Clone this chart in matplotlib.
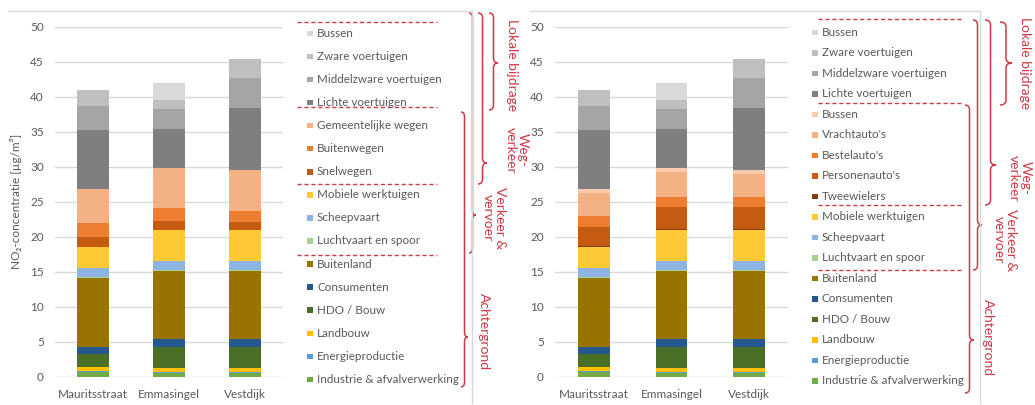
import matplotlib
matplotlib.use("Agg")
import matplotlib.pyplot as plt
import numpy as np
from matplotlib.path import Path
from matplotlib.patches import PathPatch, Rectangle

plt.rcParams['font.family'] = ['Lato', 'DejaVu Sans']

# ---------------- data ----------------
locations = ["Mauritsstraat", "Emmasingel", "Vestdijk"]

# Achtergrond (background) – stacked bottom to top
industrie = [0.7, 0.6, 0.6]
energie = [0.1, 0.1, 0.1]
landbouw = [0.65, 0.6, 0.6]
hdo_bouw = [1.75, 3.0, 3.0]
consumenten = [1.1, 1.15, 1.15]
buitenland = [9.85, 9.6, 9.6]
# Verkeer & vervoer (non-road)
luchtvaart = [0.1, 0.2, 0.2]
scheepvaart = [1.3, 1.3, 1.3]
mobiele = [3.0, 4.45, 4.45]
# Left chart: road traffic by road type
snelwegen = [1.35, 1.25, 1.1]
buitenwegen = [2.0, 1.8, 1.6]
gemeentelijk = [4.9, 5.8, 5.85]
# Right chart: road traffic by vehicle type
tweewielers = [0.1, 0.1, 0.1]
personenautos = [2.8, 3.2, 3.2]
bestelautos = [1.5, 1.4, 1.4]
vrachtautos = [3.3, 3.6, 3.3]
bussen_regio = [0.55, 0.55, 0.55]
# Lokale bijdrage
lichte = [8.45, 5.55, 8.9]
middelzware = [3.45, 2.8, 4.25]
zware = [2.25, 1.35, 2.7]
bussen_lokaal = [0.0, 2.35, 0.0]

yticks = [0, 5, 10, 15, 20, 25, 30, 35, 40, 45, 50]

C = dict(
    industrie="#70ad47", energie="#5b9bd5", landbouw="#ffc000", hdo="#4a7028",
    consumenten="#25588f", buitenland="#997300", luchtvaart="#a9d18e",
    scheepvaart="#8db4e2", mobiele="#ffc936", snelwegen="#c55a11",
    buitenwegen="#ed7d31", gemeentelijk="#f4b183", tweewielers="#843c0c",
    personen="#c55a11", bestel="#ed7d31", vracht="#f4b183", bussen_r="#f8cbad",
    lichte="#7f7f7f", middelzware="#a5a5a5", zware="#bfbfbf", bussen_l="#d9d9d9",
)

base_series_l = [
    ("Industrie & afvalverwerking", industrie, C["industrie"]),
    ("Energieproductie", energie, C["energie"]),
    ("Landbouw", landbouw, C["landbouw"]),
    ("HDO / Bouw", hdo_bouw, C["hdo"]),
    ("Consumenten", consumenten, C["consumenten"]),
    ("Buitenland", buitenland, C["buitenland"]),
    ("Luchtvaart en spoor", luchtvaart, C["luchtvaart"]),
    ("Scheepvaart", scheepvaart, C["scheepvaart"]),
    ("Mobiele werktuigen", mobiele, C["mobiele"]),
]
local_series = [
    ("Lichte voertuigen", lichte, C["lichte"]),
    ("Middelzware voertuigen", middelzware, C["middelzware"]),
    ("Zware voertuigen", zware, C["zware"]),
    ("Bussen", bussen_lokaal, C["bussen_l"]),
]
left_series = base_series_l + [
    ("Snelwegen", snelwegen, C["snelwegen"]),
    ("Buitenwegen", buitenwegen, C["buitenwegen"]),
    ("Gemeentelijke wegen", gemeentelijk, C["gemeentelijk"]),
] + local_series
right_series = base_series_l + [
    ("Tweewielers", tweewielers, C["tweewielers"]),
    ("Personenauto's", personenautos, C["personen"]),
    ("Bestelauto's", bestelautos, C["bestel"]),
    ("Vrachtauto's", vrachtautos, C["vracht"]),
    ("Bussen", bussen_regio, C["bussen_r"]),
] + local_series

W, H = 1035, 405
fig = plt.figure(figsize=(W / 100, H / 100), dpi=100)
fig.patch.set_facecolor("white")

TXT = "#595959"
RED = "#d03a44"
GRID = "#d9d9d9"


def make_axes(left_px, width_px, series, ylabel=None):
    ax = fig.add_axes([left_px / W, (H - 376.7) / H, width_px / W, 350 / H])
    x = np.arange(len(locations))
    bottom = np.zeros(len(locations))
    for name, vals, col in series:
        v = np.array(vals, dtype=float)
        ax.bar(x, v, width=0.41, bottom=bottom, color=col, edgecolor="none", zorder=3)
        bottom += v
    ax.set_xlim(-0.5, 2.5)
    ax.set_ylim(0, 50)
    ax.set_yticks(yticks)
    ax.set_xticks(x)
    ax.set_xticklabels(locations)
    ax.tick_params(axis="both", length=0, labelsize=8.5, colors=TXT)
    ax.tick_params(axis="y", pad=8)
    ax.tick_params(axis="x", pad=9)
    ax.grid(axis="y", color=GRID, linewidth=1, zorder=0)
    for s in ax.spines.values():
        s.set_visible(False)
    if ylabel:
        ax.set_ylabel(ylabel, fontsize=8.5, color=TXT, labelpad=6)
    return ax


make_axes(55, 228, left_series, ylabel="NO\u2082-concentratie [µg/m³]")
make_axes(555, 233, right_series)

ov = fig.add_axes([0, 0, 1, 1])
ov.set_xlim(0, W)
ov.set_ylim(H, 0)
ov.axis("off")

# chart frames
for (xa, xb) in [(8, 472), (530, 980)]:
    ov.plot([xa, xb], [11, 11], color=GRID, lw=1)
    ov.plot([xb, xb], [11, 403], color=GRID, lw=1)


def legend(names_colors, x_marker, y0, y1, fs=8.4):
    n = len(names_colors)
    dy = (y1 - y0) / (n - 1)
    for i, (name, col) in enumerate(names_colors):
        y = y0 + i * dy
        ov.add_patch(Rectangle((x_marker, y - 2.7), 5.5, 5.5, color=col, lw=0))
        ov.text(x_marker + 10, y, name, fontsize=fs, color=TXT, va="center", ha="left")


legend([(n, c) for n, v, c in left_series][::-1], 307, 33.3, 379.4)
legend([(n, c) for n, v, c in right_series][::-1], 812, 32.3, 380.7)

for y in [21.7, 107.3, 184, 255]:
    ov.plot([297, 437], [y, y], color=RED, lw=1, ls=(0, (3, 2)))
for y in [19, 103.3, 205, 270]:
    ov.plot([818, 962], [y, y], color=RED, lw=1, ls=(0, (3, 2)))


def brace(x0, w, y0, y1, ytip, r=5):
    xm = x0 + w / 2
    verts = [(x0, y0), (xm, y0), (xm, y0 + r),
             (xm, ytip - r), (xm, ytip), (x0 + w, ytip),
             (xm, ytip), (xm, ytip + r),
             (xm, y1 - r), (xm, y1), (x0, y1)]
    codes = [Path.MOVETO, Path.CURVE3, Path.CURVE3,
             Path.LINETO, Path.CURVE3, Path.CURVE3,
             Path.CURVE3, Path.CURVE3,
             Path.LINETO, Path.CURVE3, Path.CURVE3]
    ov.add_patch(PathPatch(Path(verts, codes), fill=False, edgecolor=RED, lw=1.1))


# left annotations
brace(489, 9, 13, 110, 63)
brace(478, 9, 13, 184, 163)
brace(469, 7, 13, 253, 215)
brace(461, 7, 112, 387, 337)
ov.text(512, 65, "Lokale bijdrage", rotation=-90, color=RED, fontsize=10, ha="center", va="center")
ov.text(517, 150, "Weg-\nverkeer", rotation=-90, color=RED, fontsize=10, ha="center", va="center",
        linespacing=1.0)
ov.text(494, 218, "Verkeer &\nvervoer", rotation=-90, color=RED, fontsize=10, ha="center", va="center",
        linespacing=1.0)
ov.text(484, 332, "Achtergrond", rotation=-90, color=RED, fontsize=10, ha="center", va="center")

# right annotations
brace(1000, 12, 22, 105, 63)
brace(985, 11, 20, 205, 165)
brace(973, 9, 20, 270, 225)
brace(965, 9, 105, 393, 340)
ov.text(1025, 63, "Lokale bijdrage", rotation=-90, color=RED, fontsize=10, ha="center", va="center")
ov.text(1020, 178, "Weg-\nverkeer", rotation=-90, color=RED, fontsize=10, ha="center", va="center",
        linespacing=1.0)
ov.text(1005, 240, "Verkeer &\nvervoer", rotation=-90, color=RED, fontsize=10, ha="center", va="center",
        linespacing=1.0)
ov.text(988, 338, "Achtergrond", rotation=-90, color=RED, fontsize=10, ha="center", va="center")

fig.savefig("out.png", dpi=100, facecolor="white")
